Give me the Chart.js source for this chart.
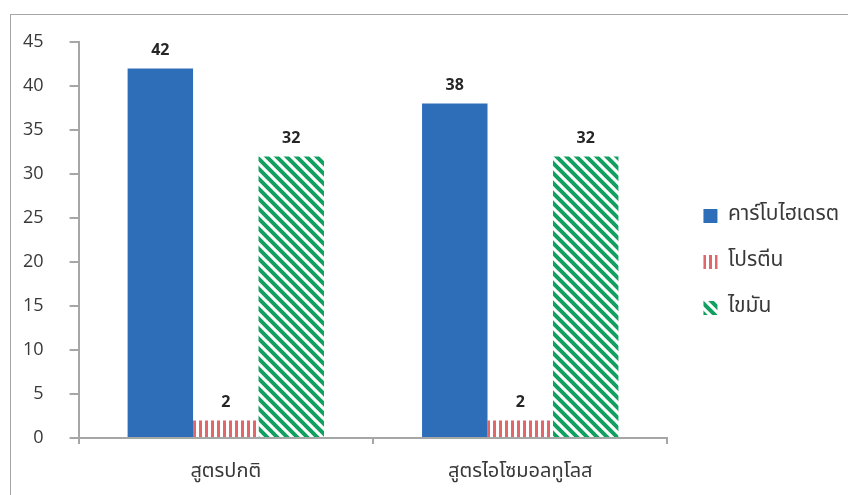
<!DOCTYPE html>
<html>
<head>
<meta charset="utf-8">
<script src="https://cdn.jsdelivr.net/npm/chart.js@4"></script>
<style>
  body { margin: 0; background: #fff; overflow: hidden; }
  #frame { position: absolute; left: 10px; top: 14px; width: 900px; height: 520px; border: 1px solid #a6a6a6; }
  #wrap { position: absolute; left: 0; top: 0; width: 848px; height: 495px; }
</style>
</head>
<body>
<div id="frame"></div>
<div id="wrap"><canvas id="formulaChart" width="848" height="495"></canvas></div>
<script>
const categories = ['สูตรปกติ', 'สูตรไอโซมอลทูโลส'];
const seriesNames = ['คาร์โบไฮเดรต', 'โปรตีน', 'ไขมัน'];
const carbValues = [42, 38];
const proteinValues = [2, 2];
const fatValues = [32, 32];
const yTicks = [0, 5, 10, 15, 20, 25, 30, 35, 40, 45];

const thaiFont = "'Noto Sans Thai', 'Tahoma', 'Noto Sans', 'DejaVu Sans', sans-serif";
const numFont = "'Open Sans', 'DejaVu Sans', sans-serif";

// striped fills like the original chart
function makeVerticalStripes(color) {
  const c = document.createElement('canvas');
  c.width = 6; c.height = 6;
  const g = c.getContext('2d');
  g.fillStyle = '#fff';
  g.fillRect(0, 0, 6, 6);
  g.fillStyle = color;
  g.fillRect(1, 0, 3, 6);
  return g.createPattern(c, 'repeat');
}

function makeDiagonalStripes(color) {
  const s = 10;
  const c = document.createElement('canvas');
  c.width = s; c.height = s;
  const g = c.getContext('2d');
  g.fillStyle = '#fff';
  g.fillRect(0, 0, s, s);
  g.strokeStyle = color;
  g.lineWidth = 4;
  g.beginPath();
  g.moveTo(-s, -s); g.lineTo(2 * s, 2 * s);
  g.moveTo(-s, 0); g.lineTo(s, 2 * s);
  g.moveTo(0, -s); g.lineTo(2 * s, s);
  g.stroke();
  return g.createPattern(c, 'repeat');
}

const ctx = document.getElementById('formulaChart');
const redPattern = makeVerticalStripes('#e0676a');
const greenPattern = makeDiagonalStripes('#12a060');

// value labels above the bars
const valueLabels = {
  id: 'valueLabels',
  afterDatasetsDraw(chart) {
    const c = chart.ctx;
    c.save();
    c.font = 'bold 16px ' + numFont;
    c.fillStyle = '#262626';
    c.textAlign = 'center';
    c.textBaseline = 'bottom';
    chart.data.datasets.forEach((ds, i) => {
      chart.getDatasetMeta(i).data.forEach((bar, j) => {
        c.fillText(ds.data[j], bar.x, bar.y - 10);
      });
    });
    c.restore();
  }
};

// nudge the legend to where the original has it
const legendShift = {
  id: 'legendShift',
  afterLayout(chart) {
    const lg = chart.legend;
    lg.left += 11;
    lg.right += 11;
    lg.top -= 10;
    lg.bottom -= 10;
  }
};

new Chart(ctx, {
  type: 'bar',
  data: {
    labels: categories,
    datasets: [
      { label: seriesNames[0], data: carbValues, backgroundColor: '#2e6eb9' },
      { label: seriesNames[1], data: proteinValues, backgroundColor: redPattern },
      { label: seriesNames[2], data: fatValues, backgroundColor: greenPattern }
    ]
  },
  options: {
    responsive: false,
    animation: false,
    layout: { padding: { left: -3, top: 42, right: 10, bottom: -7 } },
    datasets: { bar: { barPercentage: 1, categoryPercentage: 0.667 } },
    scales: {
      x: {
        grid: { display: true, drawOnChartArea: false, offset: true, tickLength: 6, color: '#a6a6a6', lineWidth: 2 },
        border: { color: '#a6a6a6', width: 2 },
        ticks: { color: '#383838', padding: 17, font: { family: thaiFont, size: 20 } }
      },
      y: {
        min: 0, max: 45,
        afterBuildTicks(axis) { axis.ticks = yTicks.map(v => ({ value: v })); },
        grid: { display: true, drawOnChartArea: false, tickLength: 9, color: '#a6a6a6', lineWidth: 2 },
        border: { color: '#a6a6a6', width: 2 },
        ticks: { color: '#383838', padding: 26, font: { family: numFont, size: 18 } }
      }
    },
    plugins: {
      tooltip: { enabled: false },
      legend: {
        position: 'right',
        align: 'center',
        labels: {
          color: '#383838',
          boxWidth: 14,
          boxHeight: 14,
          padding: 25,
          font: { family: thaiFont, size: 21 }
        }
      }
    }
  },
  plugins: [valueLabels, legendShift]
});
</script>
</body>
</html>
